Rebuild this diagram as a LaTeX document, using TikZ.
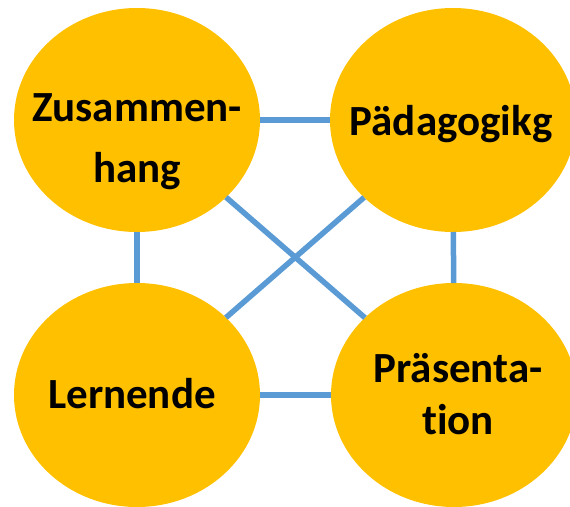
\documentclass[tikz,border=0pt]{standalone}
\usepackage{fontspec}
\setmainfont{Carlito}[Ligatures=NoCommon]
\usetikzlibrary{shapes.geometric}
\definecolor{topicfill}{RGB}{255,192,0}
\definecolor{linkblue}{RGB}{91,155,213}
\tikzset{topic/.style={ellipse,fill=topicfill,inner sep=0pt,outer sep=0pt,minimum width=246pt,minimum height=224pt},
  topictext/.style={align=center,inner sep=0pt,text=black},
  link/.style={draw=linkblue,line width=5.5pt}}

\begin{document}
\begin{tikzpicture}[x=1pt,y=-1pt]
    \useasboundingbox (0,0) rectangle (570,506);
    \node[topic] (zus) at (137,120) {};
    \node[topic] (pad) at (453,120) {};
    \node[topic] (lern) at (137,395) {};
    \node[topic] (praes) at (454,395) {};

    \draw[link] (zus) -- (pad);
    \draw[link] (lern) -- (praes);
    \draw[link] (zus) -- (lern);
    \draw[link] (pad) -- (praes);
    \draw[link] (zus) -- (praes);
    \draw[link] (pad) -- (lern);

    \node[topictext,font=\fontsize{43}{61}\selectfont\bfseries] (zuslbl) at (137,142) {Zusammen-\\hang};
    \node[topictext,font=\fontsize{43}{48}\selectfont\bfseries] (padlbl) at (451,124) {Pädagogikg};
    \node[topictext,font=\fontsize{43}{48}\selectfont\bfseries] (lernlbl) at (132,394) {Lernende};
    \node[topictext,font=\fontsize{43}{52}\selectfont\bfseries] (praeslbl) at (458,394) {Präsenta-\\tion};
\end{tikzpicture}
\end{document}
